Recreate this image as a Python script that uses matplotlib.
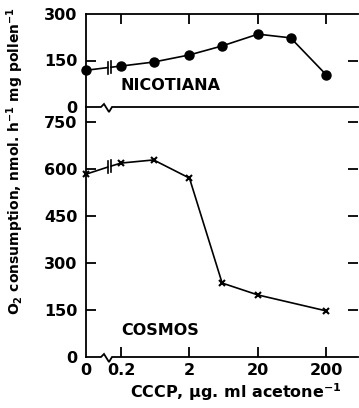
import numpy as np
import matplotlib
matplotlib.use("Agg")
import matplotlib.pyplot as plt
from matplotlib.ticker import FixedLocator, NullFormatter
from matplotlib.lines import Line2D

# CCCP concentration, ug per ml acetone (0 = control)
nic_conc = [0, 0.2, 0.6, 2, 6, 20, 60, 200]
nic_o2 = [119, 132, 145, 168, 197, 235, 223, 103]
cos_conc = [0, 0.2, 0.6, 2, 6, 20, 200]
cos_o2 = [585, 619, 629, 571, 236, 198, 147]

x_ticks = [0, 0.2, 2, 20, 200]
x_ticklabels = ["0", "0.2", "2", "20", "200"]
top_yticks = [0, 150, 300]
bot_yticks = [0, 150, 300, 450, 600, 750]

ZERO_POS = -0.51  # position of the control (0) on the broken log axis


def fwd(x):
    x = np.asarray(x, dtype=float)
    return np.where(x > 0, np.log10(np.maximum(x, 1e-12) / 0.2), ZERO_POS)


def inv(u):
    return 0.2 * 10 ** np.asarray(u, dtype=float)


X_MAX = 0.2 * 10 ** 3.46

plt.rcParams["font.family"] = ["DejaVu Sans"]
plt.rcParams["font.weight"] = "bold"
plt.rcParams["mathtext.default"] = "bf"

fig = plt.figure(figsize=(3.59, 4.08), dpi=100)
L, R = 86 / 359, 358 / 359
ax1 = fig.add_axes([L, 1 - 107 / 408, R - L, (107 - 14) / 408])
ax2 = fig.add_axes([L, 1 - 357 / 408, R - L, (357 - 107) / 408])

LW = 1.3
for ax in (ax1, ax2):
    ax.set_xscale("function", functions=(fwd, inv))
    ax.set_xlim(0, X_MAX)
    ax.spines["right"].set_visible(False)
    ax.spines["bottom"].set_visible(False)
    ax.spines["left"].set_linewidth(LW)
    ax.spines["top"].set_linewidth(LW)
    # major ticks carry the labels only; minor ticks carry the marks
    ax.xaxis.remove_overlapping_locs = False
    ax.yaxis.remove_overlapping_locs = False
    ax.tick_params(which="major", length=0, labelsize=11.5, pad=6)
    ax.tick_params(which="minor", direction="in", length=7, width=LW)
    ax.xaxis.set_minor_formatter(NullFormatter())
    ax.yaxis.set_minor_formatter(NullFormatter())
    ax.patch.set_alpha(0)

# top panel: Nicotiana
ax1.set_ylim(0, 300)
ax1.yaxis.set_major_locator(FixedLocator(top_yticks))
ax1.yaxis.set_minor_locator(FixedLocator([150]))
ax1.tick_params(axis="y", which="minor", left=True, right=True)
ax1.xaxis.set_major_locator(FixedLocator([]))
ax1.xaxis.set_minor_locator(FixedLocator([0.2, 2, 20, 200]))
ax1.tick_params(axis="x", which="minor", top=True, bottom=False)

# bottom panel: Cosmos
ax2.set_ylim(0, 798)
ax2.spines["top"].set_visible(False)
ax2.yaxis.set_major_locator(FixedLocator(bot_yticks))
ax2.yaxis.set_minor_locator(FixedLocator(bot_yticks[1:]))
ax2.tick_params(axis="y", which="minor", left=True, right=True)
ax2.set_xticks(x_ticks)
ax2.set_xticklabels(x_ticklabels)
ax2.xaxis.set_minor_locator(FixedLocator(x_ticks[1:]))
ax2.tick_params(axis="x", which="minor", top=False, bottom=True)
ax2.tick_params(axis="x", which="major", pad=4)


def broken_baseline(ax):
    """Bottom axis line with a zigzag break between 0 and 0.2."""
    w = ax.bbox.width
    h = ax.bbox.height
    xs = [0, 15 / w, 18 / w, 23 / w, 26 / w, 1.0]
    ys = [0, 0, 3 / h, -5 / h, 0, 0]
    ax.add_line(Line2D(xs, ys, transform=ax.transAxes, color="black",
                       lw=LW, clip_on=False, solid_joinstyle="miter"))


def broken_series(ax, xs, ys, marker, ms, mew):
    """Line with a '||' gap between the control and the first dose."""
    pos = fwd(xs)
    style = dict(color="black", marker=marker, ms=ms, mew=mew, mfc="black",
                 mec="black", clip_on=False, zorder=3)
    ax.plot(xs[1:], ys[1:], lw=1.2, **style)
    ax.plot(xs[:1], ys[:1], lw=0, **style)
    f0, f1 = 0.62, 0.72
    g0 = pos[0] + f0 * (pos[1] - pos[0])
    g1 = pos[0] + f1 * (pos[1] - pos[0])
    yg0 = ys[0] + (ys[1] - ys[0]) * f0
    yg1 = ys[0] + (ys[1] - ys[0]) * f1
    ax.plot(inv([pos[0] + 0.02, g0]), [ys[0], yg0], color="black", lw=1.2)
    ax.plot(inv([g1, pos[1]]), [yg1, ys[1]], color="black", lw=1.2)
    hh = ax.get_ylim()[1] / ax.bbox.height * 6
    for g, yg in ((g0, yg0), (g1, yg1)):
        ax.plot(inv([g, g]), [yg - hh, yg + hh], color="black", lw=1.2)


fig.canvas.draw()
broken_baseline(ax1)
broken_baseline(ax2)

broken_series(ax1, nic_conc, nic_o2, "o", 6.5, 1)
broken_series(ax2, cos_conc, cos_o2, "x", 5, 1.5)

ax1.text(0.2, 70, "NICOTIANA", fontsize=11.5, fontweight="bold",
         ha="left", va="center")
ax2.text(0.2, 85, "COSMOS", fontsize=11.5, fontweight="bold",
         ha="left", va="center")

fig.text(15 / 359, 1 - 161 / 408,
         "O$_2$ consumption, nmol. h$^{-1}$ mg pollen$^{-1}$",
         rotation=90, ha="center", va="center", fontsize=10,
         fontweight="bold")
fig.text(236 / 359, 1 - 392 / 408,
         "CCCP, \u00b5g. ml acetone$^{-1}$",
         ha="center", va="center", fontsize=11.5, fontweight="bold")

fig.savefig("out.png", dpi=100)
